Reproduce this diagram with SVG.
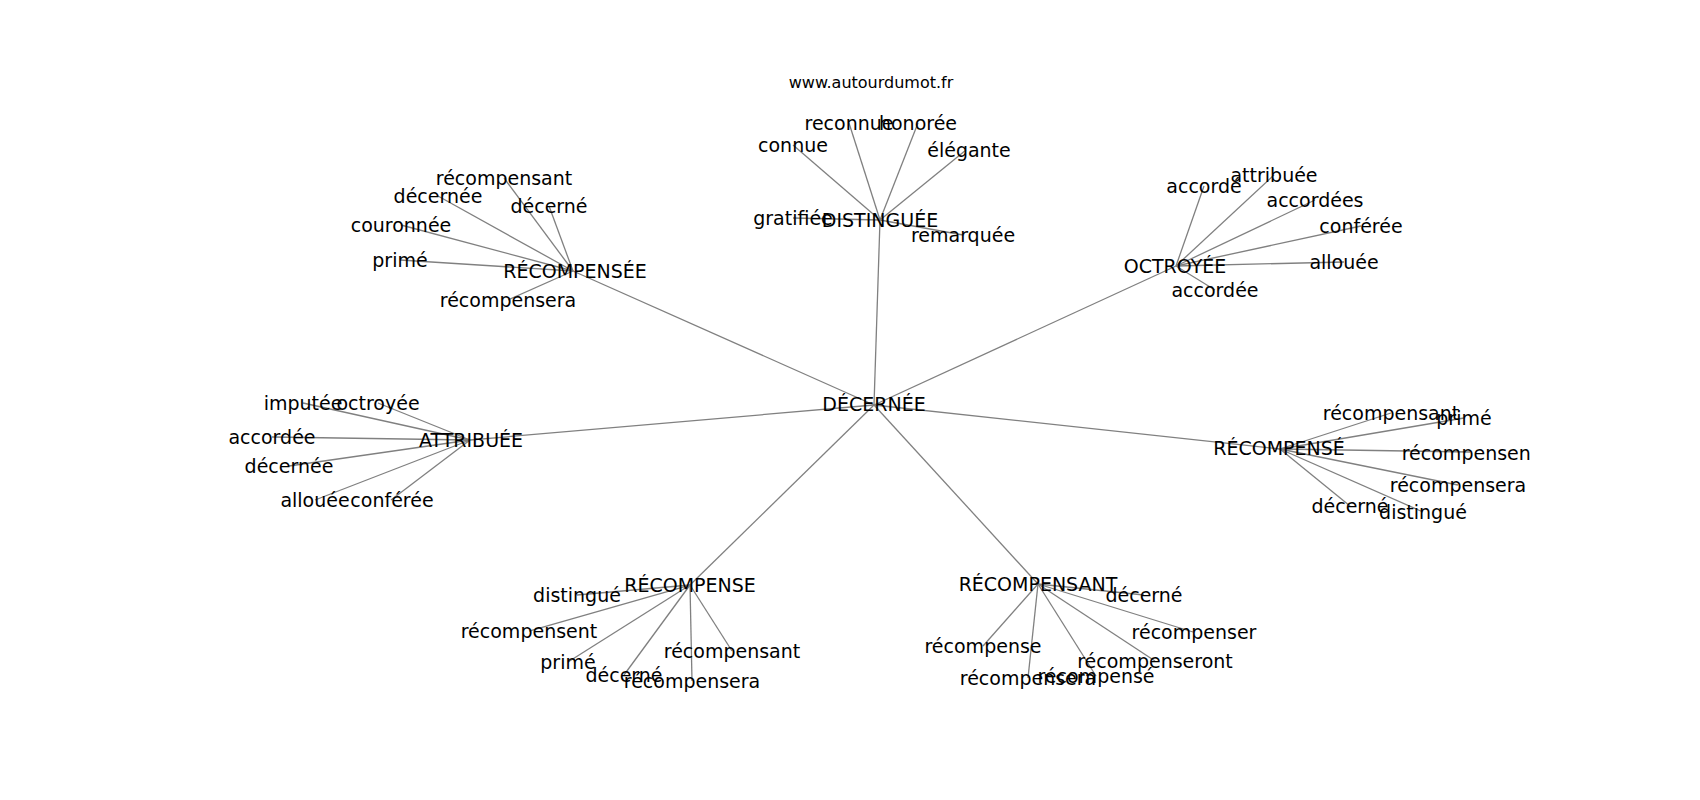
<svg xmlns="http://www.w3.org/2000/svg" width="1700" height="800" viewBox="0 0 1700 800">
<style>
.lbl{font-family:"DejaVu Sans","Liberation Sans",sans-serif;font-size:19px;fill:#000;text-anchor:middle}
.title{font-family:"DejaVu Sans","Liberation Sans",sans-serif;font-size:16px;fill:#000;text-anchor:middle}
.edges line{stroke:#808080;stroke-width:1.3;stroke-linecap:butt}
</style>
<defs>
<clipPath id="axes"><rect x="212.5" y="96" width="1317.5" height="616"/></clipPath>
</defs>
<rect width="1700" height="800" fill="#fff"/>
<text class="title" x="871" y="88">www.autourdumot.fr</text>
<g id="connectors" class="edges">
<line x1="874" y1="405" x2="880" y2="220"/>
<line x1="874" y1="405" x2="573" y2="271"/>
<line x1="874" y1="405" x2="1176" y2="266"/>
<line x1="874" y1="405" x2="470" y2="440"/>
<line x1="874" y1="405" x2="1280" y2="449"/>
<line x1="874" y1="405" x2="690" y2="585"/>
<line x1="874" y1="405" x2="1038" y2="584"/>
<line x1="880" y1="220" x2="849" y2="123"/>
<line x1="880" y1="220" x2="918" y2="123"/>
<line x1="880" y1="220" x2="793" y2="145"/>
<line x1="880" y1="220" x2="966" y2="150"/>
<line x1="880" y1="220" x2="793" y2="218"/>
<line x1="880" y1="220" x2="963" y2="235"/>
<line x1="573" y1="271" x2="504" y2="178"/>
<line x1="573" y1="271" x2="438" y2="196"/>
<line x1="573" y1="271" x2="549" y2="206"/>
<line x1="573" y1="271" x2="401" y2="225"/>
<line x1="573" y1="271" x2="400" y2="260"/>
<line x1="573" y1="271" x2="508" y2="300"/>
<line x1="1176" y1="266" x2="1274" y2="175"/>
<line x1="1176" y1="266" x2="1204" y2="186"/>
<line x1="1176" y1="266" x2="1315" y2="200"/>
<line x1="1176" y1="266" x2="1361" y2="226"/>
<line x1="1176" y1="266" x2="1344" y2="262"/>
<line x1="1176" y1="266" x2="1215" y2="290"/>
<line x1="470" y1="440" x2="303" y2="403"/>
<line x1="470" y1="440" x2="378" y2="403"/>
<line x1="470" y1="440" x2="272" y2="437"/>
<line x1="470" y1="440" x2="289" y2="466"/>
<line x1="470" y1="440" x2="315" y2="500"/>
<line x1="470" y1="440" x2="391" y2="500"/>
<line x1="1280" y1="449" x2="1391" y2="413"/>
<line x1="1280" y1="449" x2="1464" y2="418"/>
<line x1="1280" y1="449" x2="1470" y2="452"/>
<line x1="1280" y1="449" x2="1458" y2="485"/>
<line x1="1280" y1="449" x2="1350" y2="506"/>
<line x1="1280" y1="449" x2="1423" y2="512"/>
<line x1="690" y1="585" x2="577" y2="595"/>
<line x1="690" y1="585" x2="529" y2="631"/>
<line x1="690" y1="585" x2="732" y2="651"/>
<line x1="690" y1="585" x2="568" y2="662"/>
<line x1="690" y1="585" x2="624" y2="675"/>
<line x1="690" y1="585" x2="692" y2="681"/>
<line x1="1038" y1="584" x2="1144" y2="595"/>
<line x1="1038" y1="584" x2="1193" y2="632"/>
<line x1="1038" y1="584" x2="983" y2="646"/>
<line x1="1038" y1="584" x2="1155" y2="661"/>
<line x1="1038" y1="584" x2="1096" y2="676"/>
<line x1="1038" y1="584" x2="1028" y2="678"/>
</g>
<g id="nodes" clip-path="url(#axes)">
<g id="n-decernee"><text class="lbl" x="874" y="411">DÉCERNÉE</text></g>
<g id="n-distinguee"><text class="lbl" x="880" y="227">DISTINGUÉE</text></g>
<g id="n-reconnue"><text class="lbl" x="849" y="130">reconnue</text></g>
<g id="n-honoree"><text class="lbl" x="918" y="130">honorée</text></g>
<g id="n-connue"><text class="lbl" x="793" y="152">connue</text></g>
<g id="n-elegante"><text class="lbl" x="969" y="157">élégante</text></g>
<g id="n-gratifiee"><text class="lbl" x="793" y="225">gratifiée</text></g>
<g id="n-remarquee"><text class="lbl" x="963" y="242">remarquée</text></g>
<g id="n-recompensee"><text class="lbl" x="575" y="278">RÉCOMPENSÉE</text></g>
<g id="n-recompensee-recompensant"><text class="lbl" x="504" y="185">récompensant</text></g>
<g id="n-recompensee-decernee"><text class="lbl" x="438" y="203">décernée</text></g>
<g id="n-recompensee-decerne"><text class="lbl" x="549" y="213">décerné</text></g>
<g id="n-couronnee"><text class="lbl" x="401" y="232">couronnée</text></g>
<g id="n-recompensee-prime"><text class="lbl" x="400" y="267">primé</text></g>
<g id="n-recompensee-recompensera"><text class="lbl" x="508" y="307">récompensera</text></g>
<g id="n-octroyee"><text class="lbl" x="1175" y="273">OCTROYÉE</text></g>
<g id="n-attribuee-sat"><text class="lbl" x="1274" y="182">attribuée</text></g>
<g id="n-accorde"><text class="lbl" x="1204" y="193">accordé</text></g>
<g id="n-accordees"><text class="lbl" x="1315" y="207">accordées</text></g>
<g id="n-octroyee-conferee"><text class="lbl" x="1361" y="233">conférée</text></g>
<g id="n-octroyee-allouee"><text class="lbl" x="1344" y="269">allouée</text></g>
<g id="n-octroyee-accordee"><text class="lbl" x="1215" y="297">accordée</text></g>
<g id="n-attribuee"><text class="lbl" x="471" y="447">ATTRIBUÉE</text></g>
<g id="n-imputee"><text class="lbl" x="303" y="410">imputée</text></g>
<g id="n-octroyee-sat"><text class="lbl" x="378" y="410">octroyée</text></g>
<g id="n-attribuee-accordee"><text class="lbl" x="272" y="444">accordée</text></g>
<g id="n-attribuee-decernee"><text class="lbl" x="289" y="473">décernée</text></g>
<g id="n-attribuee-allouee"><text class="lbl" x="315" y="507">allouée</text></g>
<g id="n-attribuee-conferee"><text class="lbl" x="392" y="507">conférée</text></g>
<g id="n-recompense-m"><text class="lbl" x="1279" y="455">RÉCOMPENSÉ</text></g>
<g id="n-recompense-m-recompensant"><text class="lbl" x="1391" y="420">récompensant</text></g>
<g id="n-recompense-m-prime"><text class="lbl" x="1464" y="425">primé</text></g>
<g id="n-recompense-m-recompensent"><text class="lbl" x="1470" y="460">récompensent</text></g>
<g id="n-recompense-m-recompensera"><text class="lbl" x="1458" y="492">récompensera</text></g>
<g id="n-recompense-m-decerne"><text class="lbl" x="1350" y="513">décerné</text></g>
<g id="n-recompense-m-distingue"><text class="lbl" x="1423" y="519">distingué</text></g>
<g id="n-recompense"><text class="lbl" x="690" y="592">RÉCOMPENSE</text></g>
<g id="n-recompense-distingue"><text class="lbl" x="577" y="602">distingué</text></g>
<g id="n-recompense-recompensent"><text class="lbl" x="529" y="638">récompensent</text></g>
<g id="n-recompense-recompensant"><text class="lbl" x="732" y="658">récompensant</text></g>
<g id="n-recompense-prime"><text class="lbl" x="568" y="669">primé</text></g>
<g id="n-recompense-decerne"><text class="lbl" x="624" y="682">décerné</text></g>
<g id="n-recompense-recompensera"><text class="lbl" x="692" y="688">récompensera</text></g>
<g id="n-recompensant"><text class="lbl" x="1038" y="591">RÉCOMPENSANT</text></g>
<g id="n-recompensant-decerne"><text class="lbl" x="1144" y="602">décerné</text></g>
<g id="n-recompenser"><text class="lbl" x="1194" y="639">récompenser</text></g>
<g id="n-recompensant-recompense"><text class="lbl" x="983" y="653">récompense</text></g>
<g id="n-recompenseront"><text class="lbl" x="1155" y="668">récompenseront</text></g>
<g id="n-recompensant-recompense-e"><text class="lbl" x="1096" y="683">récompensé</text></g>
<g id="n-recompensant-recompensera"><text class="lbl" x="1028" y="685">récompensera</text></g>
</g>
</svg>
